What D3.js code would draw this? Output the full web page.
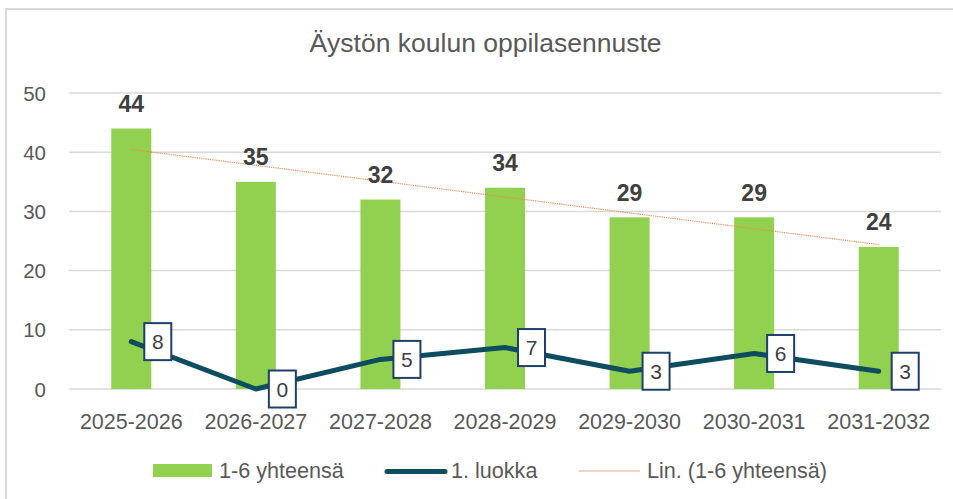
<!DOCTYPE html>
<html><head><meta charset="utf-8">
<script src="https://cdn.jsdelivr.net/npm/d3@7"></script>
<style>body{margin:0;background:#fff;} svg{display:block;font-family:"Liberation Sans",Arial,sans-serif;}</style>
</head><body>
<svg id="c" width="953" height="499"></svg>
<script>
const title = "Äystön koulun oppilasennuste";
const categories = ["2025-2026","2026-2027","2027-2028","2028-2029","2029-2030","2030-2031","2031-2032"];
const totals = [44,35,32,34,29,29,24];
const firstGrade = [8,0,5,7,3,6,3];
const yTicks = [0,10,20,30,40,50];
const seriesNames = ["1-6 yhteensä","1. luokka","Lin. (1-6 yhteensä)"];

const svg = d3.select("#c");
// chart area border (only left/top visible)
svg.append("rect").attr("x",6).attr("y",9).attr("width",1000).attr("height",600)
  .attr("fill","#fff").attr("stroke","#d9d9d9").attr("stroke-width",2);

const x = d3.scaleBand().domain(categories).range([69,941]);
const y = d3.scaleLinear().domain([0,50]).range([389,93]);
const barW = 40;
const cx = c => x(c) + x.bandwidth()/2;

// gridlines
svg.append("g").selectAll("line").data(yTicks).join("line")
  .attr("x1",69).attr("x2",941).attr("y1",d=>y(d)).attr("y2",d=>y(d))
  .attr("stroke","#d9d9d9").attr("stroke-width",1.5);

// y axis labels
const yAxis = d3.axisLeft(y).tickValues(yTicks).tickSize(0).tickPadding(0);
const gy = svg.append("g").attr("transform","translate(46,0)").call(yAxis);
gy.select(".domain").remove();
gy.selectAll("text").attr("font-size",20.5).attr("fill","#595959")
  .attr("font-family","Liberation Sans, Arial, sans-serif").attr("dy",null).attr("dominant-baseline","auto")
  .attr("y",7);

// x axis labels
const xAxis = d3.axisBottom(x).tickSize(0).tickPadding(0);
const gx = svg.append("g").attr("transform","translate(0,429)").call(xAxis);
gx.select(".domain").remove();
gx.selectAll("text").attr("font-size",21.5).attr("fill","#595959")
  .attr("font-family","Liberation Sans, Arial, sans-serif").attr("dy",null).attr("y",0);

// bars
svg.append("g").selectAll("rect").data(totals).join("rect")
  .attr("x",(d,i)=>cx(categories[i])-barW/2).attr("width",barW)
  .attr("y",d=>y(d)).attr("height",d=>y(0)-y(d)).attr("fill","#92D050");

// linear trendline (least squares on totals)
const n = totals.length, mx = d3.mean(d3.range(n)), my = d3.mean(totals);
const slope = d3.sum(d3.range(n), i=>(i-mx)*(totals[i]-my)) / d3.sum(d3.range(n), i=>(i-mx)*(i-mx));
const icpt = my - slope*mx;
svg.append("line")
  .attr("x1",cx(categories[0])).attr("y1",y(icpt))
  .attr("x2",cx(categories[n-1])).attr("y2",y(icpt+slope*(n-1)))
  .attr("stroke","#EE8A55").attr("stroke-width",1.2).attr("stroke-dasharray","1.2,1");

// bar value labels
svg.append("g").selectAll("text").data(totals).join("text")
  .attr("x",(d,i)=>cx(categories[i])).attr("y",d=>y(d)-16.5)
  .attr("text-anchor","middle").attr("font-size",23).attr("font-weight","bold")
  .attr("fill","#404040").text(d=>d);

// 1. luokka line
const line = d3.line().x((d,i)=>cx(categories[i])).y(d=>y(d));
svg.append("path").datum(firstGrade).attr("d",line).attr("fill","none")
  .attr("stroke","#0E4C60").attr("stroke-width",5).attr("stroke-linecap","round").attr("stroke-linejoin","round");

// boxed labels
const lg = svg.append("g").selectAll("g").data(firstGrade).join("g")
  .attr("transform",(d,i)=>`translate(${cx(categories[i])+13},${y(d)})`);
lg.append("rect").attr("x",0).attr("y",-18.5).attr("width",27).attr("height",37)
  .attr("fill","#fff").attr("stroke","#1F3F6B").attr("stroke-width",2);
lg.append("text").attr("x",13.5).attr("y",7.5).attr("text-anchor","middle")
  .attr("font-size",21).attr("fill","#404040").text(d=>d);

// title
svg.append("text").attr("x",485.5).attr("y",52).attr("text-anchor","middle")
  .attr("font-size",26.5).attr("fill","#595959").text(title);

// legend
const leg = svg.append("g").attr("font-size",21.6).attr("fill","#595959");
leg.append("rect").attr("x",153).attr("y",464).attr("width",59).attr("height",13).attr("fill","#92D050");
leg.append("text").attr("x",219).attr("y",478).text(seriesNames[0]);
leg.append("line").attr("x1",387).attr("x2",445).attr("y1",471.5).attr("y2",471.5)
  .attr("stroke","#0E4C60").attr("stroke-width",5).attr("stroke-linecap","round");
leg.append("text").attr("x",451).attr("y",478).text(seriesNames[1]);
leg.append("line").attr("x1",579).attr("x2",640).attr("y1",471).attr("y2",471)
  .attr("stroke","#F4A77F").attr("stroke-width",1.2);
leg.append("text").attr("x",647).attr("y",478).text(seriesNames[2]);
</script>
</body></html>
